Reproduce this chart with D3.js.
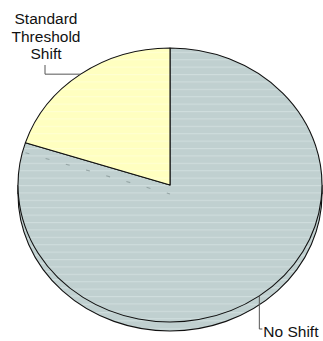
<!DOCTYPE html>
<html>
<head>
<meta charset="utf-8">
<script src="https://cdn.jsdelivr.net/npm/d3@7"></script>
<style>
  html, body { margin: 0; padding: 0; background: #ffffff; }
  svg { display: block; }
  text { font-family: "Liberation Sans", Arial, sans-serif; font-size: 15.5px; fill: #111111; }
</style>
</head>
<body>
<svg id="chart" width="323" height="341"></svg>
<script>
// Slice data (percent of total)
const categories = ["No Shift", "Standard Threshold Shift"];
const values = [80, 20];
const labelLines = [["No Shift"], ["Standard", "Threshold", "Shift"]];
const fills = ["#c0d0d0", "#ffffc0"];
const stripes = ["#cfdddd", "#ffffd2"];

const W = 323, H = 341;
const cx = 170, cy = 185, rx = 152, ry = 137, depth = 9;
const k = ry / rx;

const svg = d3.select("#chart");
const defs = svg.append("defs");

// Horizontal banding inside each slice
fills.forEach((f, i) => {
  const p = defs.append("pattern")
    .attr("id", "band" + i)
    .attr("patternUnits", "userSpaceOnUse")
    .attr("width", 10).attr("height", 7.4 / k);
  p.append("rect").attr("width", 10).attr("height", 7.4 / k).attr("fill", f);
  p.append("rect").attr("y", 0).attr("width", 10).attr("height", 1.1 / k).attr("fill", stripes[i]);
});

const pie = d3.pie().sort(null).value(d => d.value);
const arcs = pie(categories.map((c, i) => ({ name: c, value: values[i], i })));
const arc = d3.arc().innerRadius(0).outerRadius(rx);

// Point on the tilted rim for a given pie angle
const rim = (a, dy = 0) => [cx + rx * Math.sin(a), cy - ry * Math.cos(a) + dy];

// Side wall: lower rim ellipse plus the band between rims
const side = svg.append("g");
side.append("rect")
  .attr("x", cx - rx).attr("y", cy).attr("width", 2 * rx).attr("height", depth)
  .attr("fill", fills[0]);
side.append("ellipse")
  .attr("cx", cx).attr("cy", cy + depth).attr("rx", rx).attr("ry", ry)
  .attr("fill", "url(#band0)").attr("stroke", "#111").attr("stroke-width", 1.1);
side.append("line")
  .attr("x1", cx - rx).attr("y1", cy).attr("x2", cx - rx).attr("y2", cy + depth)
  .attr("stroke", "#111");
side.append("line")
  .attr("x1", cx + rx).attr("y1", cy).attr("x2", cx + rx).attr("y2", cy + depth)
  .attr("stroke", "#111");

// Top face
const face = svg.append("g")
  .attr("transform", `translate(${cx},${cy}) scale(1,${k})`);
face.selectAll("path.slice")
  .data(arcs)
  .join("path")
  .attr("class", "slice")
  .attr("d", arc)
  .attr("fill", d => `url(#band${d.data.i})`)
  .attr("stroke", "#111")
  .attr("stroke-width", 1.1)
  .attr("vector-effect", "non-scaling-stroke")
  .attr("stroke-linejoin", "round");

// Faint trace of the hidden wall edge below the slice boundary
const edgeAngle = arcs[1].startAngle;
const [ex, ey] = rim(edgeAngle, depth + 1);
svg.append("line")
  .attr("x1", ex).attr("y1", ey).attr("x2", cx).attr("y2", cy + depth)
  .attr("stroke", "#95a5a5").attr("stroke-width", 1.1)
  .attr("stroke-dasharray", "4,17");

// Labels with leader lines from each slice's mid angle
const mid = d => (d.startAngle + d.endAngle) / 2;

// Standard Threshold Shift (upper left)
{
  const d = arcs[1];
  const [px, py] = rim(mid(d));
  const lx = 45, ly = 65;
  svg.append("polyline")
    .attr("points", `${px},${py} ${lx},${py} ${lx},${ly}`)
    .attr("fill", "none").attr("stroke", "#555").attr("stroke-width", 1);
  const t = svg.append("text").attr("text-anchor", "middle");
  labelLines[1].forEach((s, j) => {
    t.append("tspan").attr("x", lx + 1).attr("y", 24 + j * 17.6).text(s);
  });
}

// No Shift (lower right)
{
  const d = arcs[0];
  const [px, py] = rim(mid(d));
  const ly = 329;
  svg.append("polyline")
    .attr("points", `${px},${py} ${px},${ly} ${px + 3},${ly}`)
    .attr("fill", "none").attr("stroke", "#555").attr("stroke-width", 1);
  svg.append("text")
    .attr("x", px + 4).attr("y", 336.5)
    .text(labelLines[0][0]);
}
</script>
</body>
</html>
